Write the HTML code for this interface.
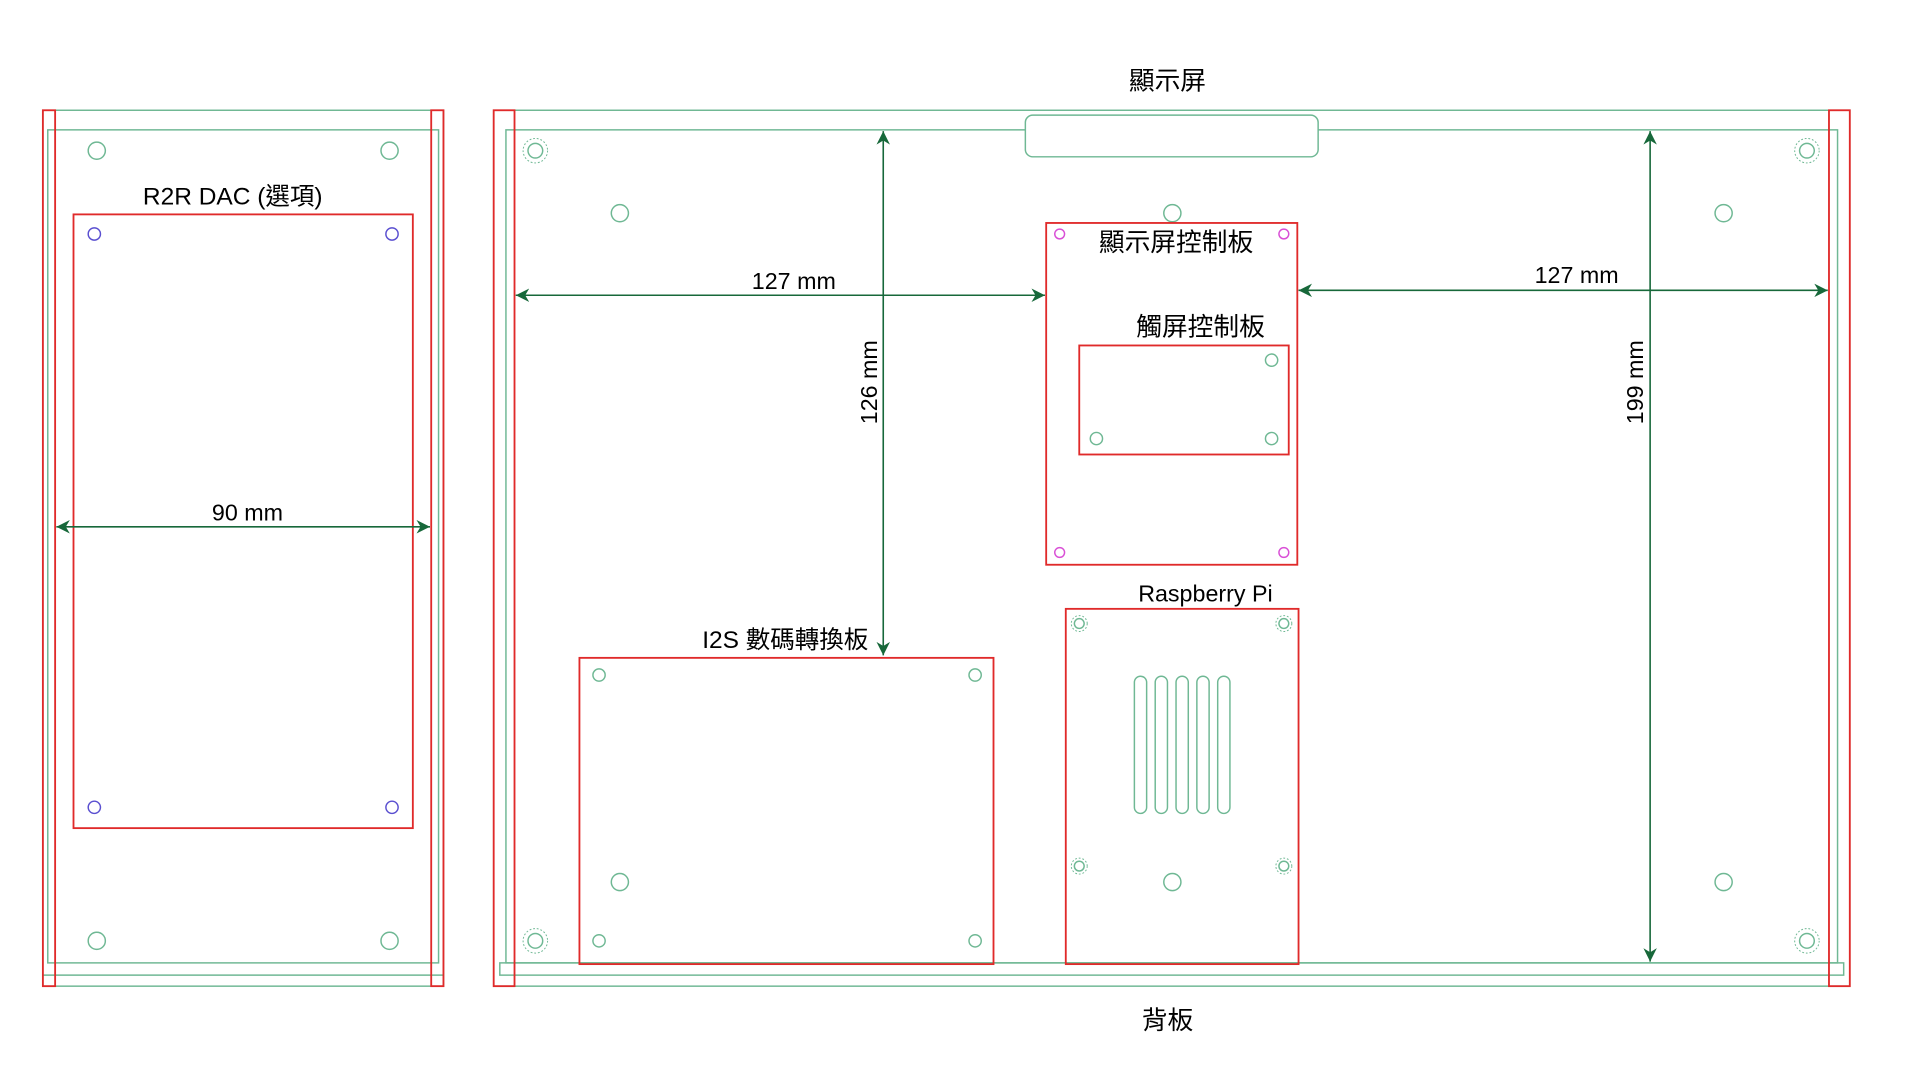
<!DOCTYPE html>
<html><head><meta charset="utf-8"><style>
html,body{margin:0;padding:0;background:#fff;}
svg{display:block;}
text{font-family:"Liberation Sans","Noto Sans CJK TC",sans-serif;fill:#000;}
</style></head><body>
<svg width="1920" height="1068" viewBox="0 0 1567.3 871.8" xmlns="http://www.w3.org/2000/svg">
<defs>
<marker id="a" viewBox="0 0 10 10" refX="10" refY="5" markerWidth="11" markerHeight="11" orient="auto-start-reverse" markerUnits="userSpaceOnUse"><path d="M0,0 L10,5 L0,10 L3,5 z" fill="#17683a"/></marker>
</defs>
<g fill="none" stroke="#6fb894" stroke-width="1.2">
<rect x="35" y="90" width="327" height="715"/>
<rect x="39" y="106" width="319" height="680"/>
<line x1="35" y1="796" x2="362" y2="796"/>
<circle cx="79" cy="123" r="7"/><circle cx="318" cy="123" r="7"/>
<circle cx="79" cy="768" r="7"/><circle cx="318" cy="768" r="7"/>
<rect x="403" y="90" width="1107" height="715"/>
<rect x="413" y="106" width="1087" height="680"/>
<rect x="408" y="786" width="1097" height="10"/>
<rect x="837" y="94" width="239" height="34" rx="6" fill="#fff"/>
<circle cx="506" cy="174" r="7"/><circle cx="957" cy="174" r="7"/><circle cx="1407" cy="174" r="7"/>
<circle cx="506" cy="720" r="7"/><circle cx="957" cy="720" r="7"/><circle cx="1407" cy="720" r="7"/>
<circle cx="437" cy="123" r="6"/><circle cx="1475" cy="123" r="6"/><circle cx="437" cy="768" r="6"/><circle cx="1475" cy="768" r="6"/>
<g stroke-dasharray="1.5 1.5" stroke-width="0.8">
<circle cx="437" cy="123" r="10"/><circle cx="1475" cy="123" r="10"/><circle cx="437" cy="768" r="10"/><circle cx="1475" cy="768" r="10"/>
<circle cx="881" cy="509" r="6.5"/><circle cx="1048" cy="509" r="6.5"/><circle cx="881" cy="707" r="6.5"/><circle cx="1048" cy="707" r="6.5"/>
</g>
<circle cx="881" cy="509" r="4"/><circle cx="1048" cy="509" r="4"/><circle cx="881" cy="707" r="4"/><circle cx="1048" cy="707" r="4"/>
<rect x="926" y="552" width="10" height="112" rx="5"/><rect x="943" y="552" width="10" height="112" rx="5"/><rect x="960" y="552" width="10" height="112" rx="5"/><rect x="977" y="552" width="10" height="112" rx="5"/><rect x="994" y="552" width="10" height="112" rx="5"/>
<circle cx="1038" cy="294" r="5"/><circle cx="895" cy="358" r="5"/><circle cx="1038" cy="358" r="5"/>
<circle cx="489" cy="551" r="5"/><circle cx="796" cy="551" r="5"/><circle cx="489" cy="768" r="5"/><circle cx="796" cy="768" r="5"/>
</g>
<g fill="none" stroke="#5a4fd0" stroke-width="1.2">
<circle cx="77" cy="191" r="5"/><circle cx="320" cy="191" r="5"/><circle cx="77" cy="659" r="5"/><circle cx="320" cy="659" r="5"/>
</g>
<g fill="none" stroke="#d94fd6" stroke-width="1.2">
<circle cx="865" cy="191" r="4"/><circle cx="1048" cy="191" r="4"/><circle cx="865" cy="451" r="4"/><circle cx="1048" cy="451" r="4"/>
</g>
<g fill="none" stroke="#e02a2a" stroke-width="1.5">
<rect x="35" y="90" width="10" height="715"/><rect x="352" y="90" width="10" height="715"/>
<rect x="403" y="90" width="17" height="715"/><rect x="1493" y="90" width="17" height="715"/>
<rect x="60" y="175" width="277" height="501"/>
<rect x="854" y="182" width="205" height="279"/>
<rect x="881" y="282" width="171" height="89"/>
<rect x="870" y="497" width="190" height="290"/>
<rect x="473" y="537" width="338" height="250"/>
</g>
<g stroke="#17683a" stroke-width="1.3" marker-start="url(#a)" marker-end="url(#a)">
<line x1="46" y1="430" x2="351" y2="430"/>
<line x1="421" y1="241" x2="853" y2="241"/>
<line x1="1060" y1="237" x2="1492" y2="237"/>
<line x1="721" y1="107" x2="721" y2="535"/>
<line x1="1347" y1="107" x2="1347" y2="785"/>
</g>
<g font-size="19" text-anchor="middle">
<text x="953" y="73" font-size="21">顯示屏</text>
<text x="953" y="840" font-size="21">背板</text>
<text x="190" y="167" font-size="20">R2R DAC (選項)</text>
<text x="202" y="425">90 mm</text>
<text x="648" y="236">127 mm</text>
<text x="1287" y="231">127 mm</text>
<text x="960" y="205" font-size="21">顯示屏控制板</text>
<text x="980" y="274" font-size="21">觸屏控制板</text>
<text x="984" y="491">Raspberry Pi</text>
<text x="641" y="529" font-size="20">I2S 數碼轉換板</text>
<text transform="translate(716,312) rotate(-90)">126 mm</text>
<text transform="translate(1341,312) rotate(-90)">199 mm</text>
</g>
</svg>
</body></html>
